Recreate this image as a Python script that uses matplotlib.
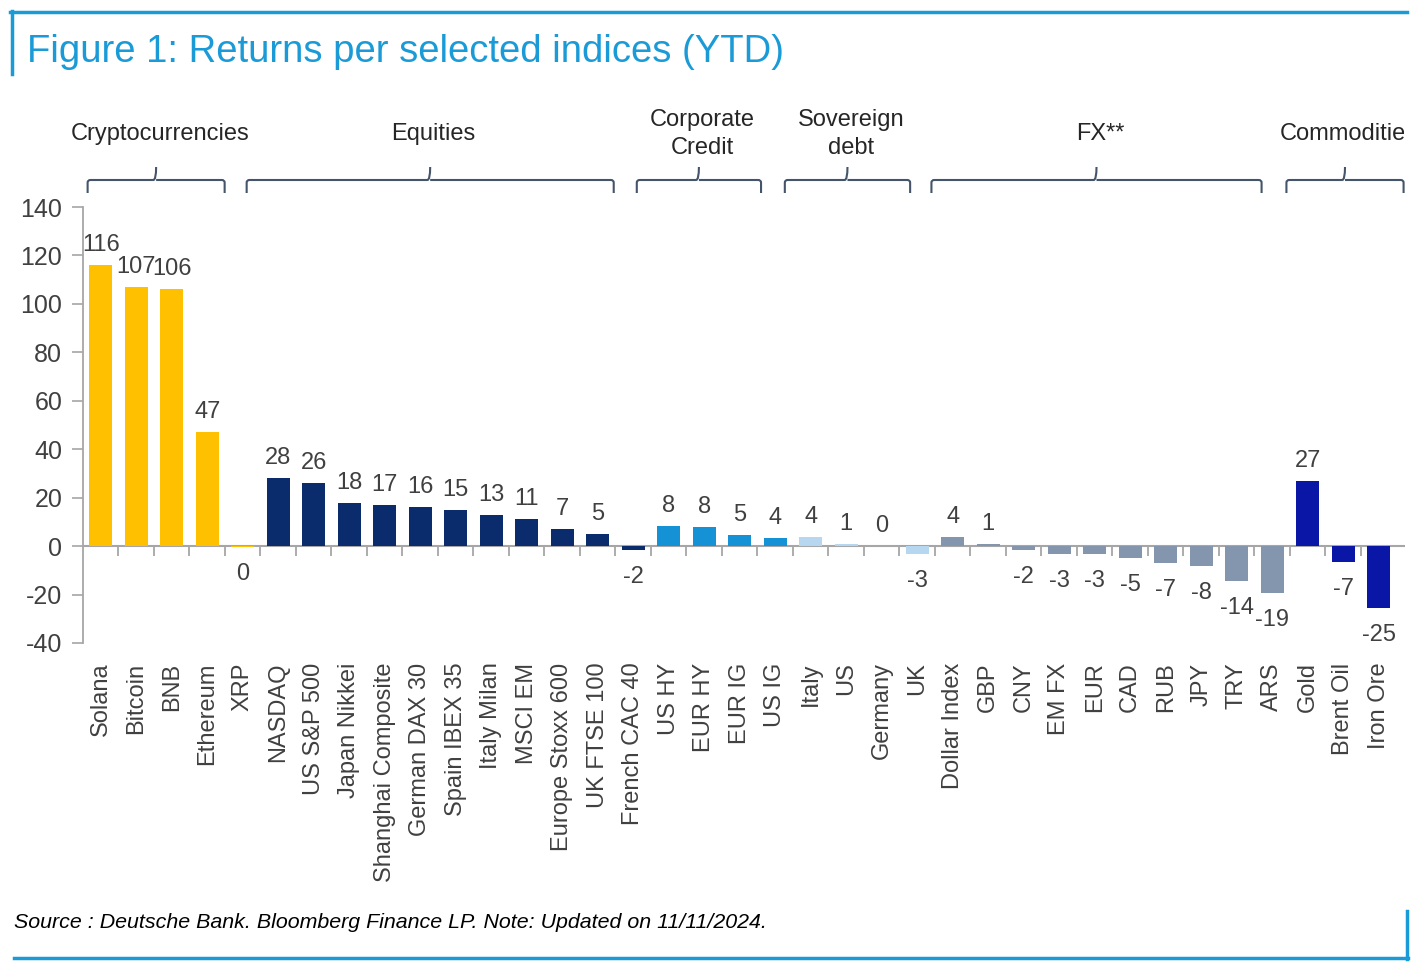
import matplotlib
matplotlib.use("Agg")
import matplotlib.pyplot as plt
from matplotlib.lines import Line2D
from matplotlib.path import Path
from matplotlib.patches import PathPatch
from matplotlib.transforms import blended_transform_factory, Bbox, TransformedBbox

plt.rcParams['font.family'] = ['Liberation Sans', 'DejaVu Sans']

# ---------------- data ----------------
categories = ["Solana", "Bitcoin", "BNB", "Ethereum", "XRP",
              "NASDAQ", "US S&P 500", "Japan Nikkei", "Shanghai Composite", "German DAX 30",
              "Spain IBEX 35", "Italy Milan", "MSCI EM", "Europe Stoxx 600", "UK FTSE 100",
              "French CAC 40",
              "US HY", "EUR HY", "EUR IG", "US IG",
              "Italy", "US", "Germany", "UK",
              "Dollar Index", "GBP", "CNY", "EM FX", "EUR", "CAD", "RUB", "JPY", "TRY", "ARS",
              "Gold", "Brent Oil", "Iron Ore"]
crypto_vals = [116, 107, 106, 47, -0.5]
equity_vals = [28, 26, 18, 17, 16, 15, 13, 11, 7, 5, -1.6]
corp_vals = [8.4, 7.8, 4.7, 3.5]
sov_vals = [3.8, 0.8, 0.1, -3.1]
fx_vals = [3.8, 0.7, -1.6, -3.3, -3.3, -5.1, -6.9, -8.2, -14.4, -19.4]
comm_vals = [27, -6.6, -25.4]

group_vals = [crypto_vals, equity_vals, corp_vals, sov_vals, fx_vals, comm_vals]
group_colors = ["#FFC000", "#0B2C6C", "#1592D5", "#B7D7F1", "#8496AE", "#0A16A6"]

# group headers: (label, bracket start, bracket end) in category units
brackets = [("Cryptocurrencies", -0.37, 3.49),
            ("Equities", 4.11, 14.45),
            ("Corporate\nCredit", 15.1, 18.6),
            ("Sovereign\ndebt", 19.27, 22.8),
            ("FX**", 23.4, 32.7),
            ("Commodities", 33.4, 36.7)]

yticks = [-40, -20, 0, 20, 40, 60, 80, 100, 120, 140]

title = "Figure 1: Returns per selected indices (YTD)"
source = "Source : Deutsche Bank. Bloomberg Finance LP. Note: Updated on 11/11/2024."

# ---------------- build ----------------
values = []
colors = []
for vals, col in zip(group_vals, group_colors):
    values += vals
    colors += [col] * len(vals)

W, H = 1420, 967
fig = plt.figure(figsize=(W / 100, H / 100), dpi=100)
ax = fig.add_axes([83 / W, 1 - 643 / H, (1405 - 83) / W, (643 - 207) / H])

x = list(range(len(categories)))
ax.bar(x, values, width=0.66, color=colors, zorder=4)

axis_grey = "#A6A6A6"
text_col = "#404040"

ax.set_xlim(-0.5, 36.74)
ax.set_ylim(-40, 140)
ax.set_yticks(yticks)
ax.set_yticklabels([str(t) for t in yticks], fontsize=18, color=text_col)
ax.tick_params(axis='y', length=8, width=1.2, color=axis_grey, pad=7)

ax.set_xticks(x)
ax.set_xticklabels(categories, rotation=90, fontsize=17, color=text_col, va='top', ha='center')
ax.tick_params(axis='x', length=0, pad=14)

for s in ["top", "right", "bottom"]:
    ax.spines[s].set_visible(False)
ax.spines["left"].set_color(axis_grey)
ax.spines["left"].set_linewidth(1.3)

# zero line with boundary ticks
ax.axhline(0, color=axis_grey, lw=1.5, zorder=3)
ax.vlines([i + 0.5 for i in range(len(categories) - 1)], -4.2, 0, color=axis_grey, lw=1.3, zorder=3)

# value labels
for xi, v in zip(x, values):
    lab = str(int(round(v)))
    if v >= 0:
        ax.annotate(lab, (xi, v), xytext=(0, 9), textcoords='offset pixels',
                    ha='center', va='bottom', fontsize=17, color=text_col, zorder=5)
    else:
        ax.annotate(lab, (xi, v), xytext=(0, -16), textcoords='offset pixels',
                    ha='center', va='top', fontsize=17, color=text_col, zorder=5)

# group brackets
btr = blended_transform_factory(ax.transData, ax.transAxes)
br_col = "#44546A"
y_line = 1 + 27 / 436
y_tip = 1 + 14 / 436
y_mid = 1 + 40 / 436
y_lab = 1 + 73 / 436
clipbox = TransformedBbox(Bbox([[0, 0], [1404 / W, 1]]), fig.transFigure)
for lab, x0, x1 in brackets:
    xm = (x0 + x1) / 2
    d = 0.08
    verts = [(x0, y_tip), (x0, y_line - 0.006), (x0, y_line), (x0 + d, y_line),
             (xm - d, y_line), (xm, y_line), (xm, y_mid),
             (xm, y_line), (xm + d, y_line),
             (x1 - d, y_line), (x1, y_line), (x1, y_line - 0.006), (x1, y_tip)]
    codes = [Path.MOVETO, Path.LINETO, Path.CURVE3, Path.CURVE3,
             Path.LINETO, Path.CURVE3, Path.CURVE3,
             Path.MOVETO, Path.LINETO,
             Path.LINETO, Path.CURVE3, Path.CURVE3, Path.LINETO]
    pp = PathPatch(Path(verts, codes), transform=btr, fill=False, edgecolor=br_col,
                   lw=1.5, clip_on=False)
    ax.add_patch(pp)
    t = ax.text(xm + 0.1, y_lab, lab, transform=btr, ha='center', va='center', fontsize=17,
                color="#262626", linespacing=1.35, clip_on=False)
    t.set_clip_box(clipbox)
    t.set_clip_on(True)

# title and frame
blue = "#1A9BD7"
fig.text(27 / W, 1 - 52 / H, title, fontsize=27.5, color=blue, ha='left', va='center')
fig.text(14 / W, 1 - 923 / H, source, fontsize=15.4, color="#000000", style='italic',
         ha='left', va='center')
fig.add_artist(Line2D([10 / W, 1407 / W], [1 - 12 / H, 1 - 12 / H], color=blue, lw=2.5))
fig.add_artist(Line2D([12 / W, 12 / W], [1 - 11 / H, 1 - 74 / H], color=blue, lw=2.5))
fig.add_artist(Line2D([14 / W, 1408 / W], [1 - 958 / H, 1 - 958 / H], color=blue, lw=2.5))
fig.add_artist(Line2D([1407 / W, 1407 / W], [1 - 911 / H, 1 - 959 / H], color=blue, lw=2.5))

fig.savefig("out.png", dpi=100)
